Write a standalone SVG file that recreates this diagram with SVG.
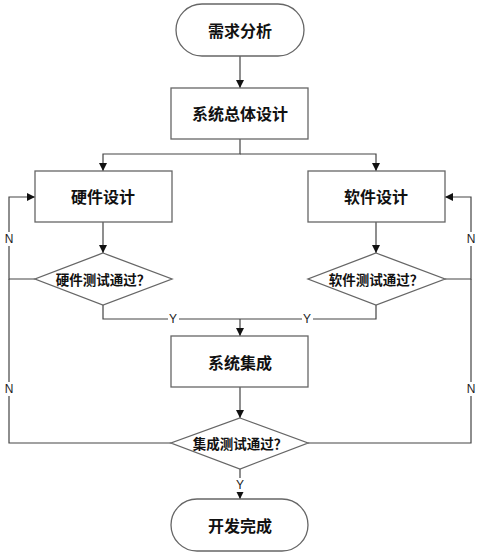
<svg xmlns="http://www.w3.org/2000/svg" width="480" height="554" viewBox="0 0 480 554">
<style>
.shape{fill:#fff;stroke:#666;stroke-width:1.3}
.t{font-family:"Noto Sans CJK SC","Liberation Sans",sans-serif;font-size:16px;font-weight:bold;fill:#111;text-anchor:middle;dominant-baseline:central}
.d{font-size:13.5px}
.c{fill:none;stroke:#444;stroke-width:1.2}
.lbl{font-family:"Liberation Sans",sans-serif;font-size:12px;fill:#222;text-anchor:middle;dominant-baseline:central}
.bg{fill:#fff}
</style>
<defs>
<marker id="ah" markerWidth="10" markerHeight="10" refX="9" refY="5" orient="auto" markerUnits="userSpaceOnUse">
<path d="M1,1 L9,5 L1,9 Z" fill="#111"/>
</marker>
</defs>
<g id="connectors">
<path class="c" d="M240,56 V88" marker-end="url(#ah)"/>
<path class="c" d="M240,139 V154 H103 V171" marker-end="url(#ah)"/>
<path class="c" d="M240,154 H376 V171" marker-end="url(#ah)"/>
<path class="c" d="M103,222 V253" marker-end="url(#ah)"/>
<path class="c" d="M376,222 V253" marker-end="url(#ah)"/>
<path class="c" d="M35,279 H9 V197 H35" marker-end="url(#ah)"/>
<path class="c" d="M445,279 H471 V197 H445" marker-end="url(#ah)"/>
<path class="c" d="M103,305 V319 H376 V305"/>
<path class="c" d="M240,319 V336" marker-end="url(#ah)"/>
<path class="c" d="M240,387 V418" marker-end="url(#ah)"/>
<path class="c" d="M171,443 H9 V279"/>
<path class="c" d="M308,443 H471 V279"/>
<path class="c" d="M240,469 V499" marker-end="url(#ah)"/>
<rect class="bg" x="4" y="232" width="11" height="14"/>
<text class="lbl" x="9" y="239">N</text>
<rect class="bg" x="466" y="232" width="11" height="14"/>
<text class="lbl" x="471" y="239">N</text>
<rect class="bg" x="4" y="382" width="11" height="14"/>
<text class="lbl" x="9" y="389">N</text>
<rect class="bg" x="466" y="382" width="11" height="14"/>
<text class="lbl" x="471" y="389">N</text>
<rect class="bg" x="168" y="312" width="11" height="14"/>
<text class="lbl" x="173" y="319">Y</text>
<rect class="bg" x="302" y="312" width="11" height="14"/>
<text class="lbl" x="307" y="319">Y</text>
<rect class="bg" x="235" y="478" width="11" height="14"/>
<text class="lbl" x="240" y="485">Y</text>
</g>
<g id="start"><rect class="shape" x="176" y="4" width="128" height="52" rx="26"/><text class="t" x="240" y="30">需求分析</text></g>
<g id="sysdesign"><rect class="shape" x="171" y="88" width="137" height="51"/><text class="t" x="240" y="113">系统总体设计</text></g>
<g id="hwdesign"><rect class="shape" x="35" y="171" width="137" height="51"/><text class="t" x="103" y="196">硬件设计</text></g>
<g id="swdesign"><rect class="shape" x="308" y="171" width="137" height="51"/><text class="t" x="376" y="196">软件设计</text></g>
<g id="hwtest"><polygon class="shape" points="103,253 172,279 103,305 35,279"/><text class="t d" x="103" y="279">硬件测试通过？</text></g>
<g id="swtest"><polygon class="shape" points="376,253 445,279 376,305 308,279"/><text class="t d" x="376" y="279">软件测试通过？</text></g>
<g id="integration"><rect class="shape" x="171" y="336" width="137" height="51"/><text class="t" x="240" y="362">系统集成</text></g>
<g id="inttest"><polygon class="shape" points="240,418 308,443 240,469 171,443"/><text class="t d" x="240" y="443">集成测试通过？</text></g>
<g id="end"><rect class="shape" x="171" y="499" width="137" height="52" rx="26"/><text class="t" x="240" y="525">开发完成</text></g>
</svg>
